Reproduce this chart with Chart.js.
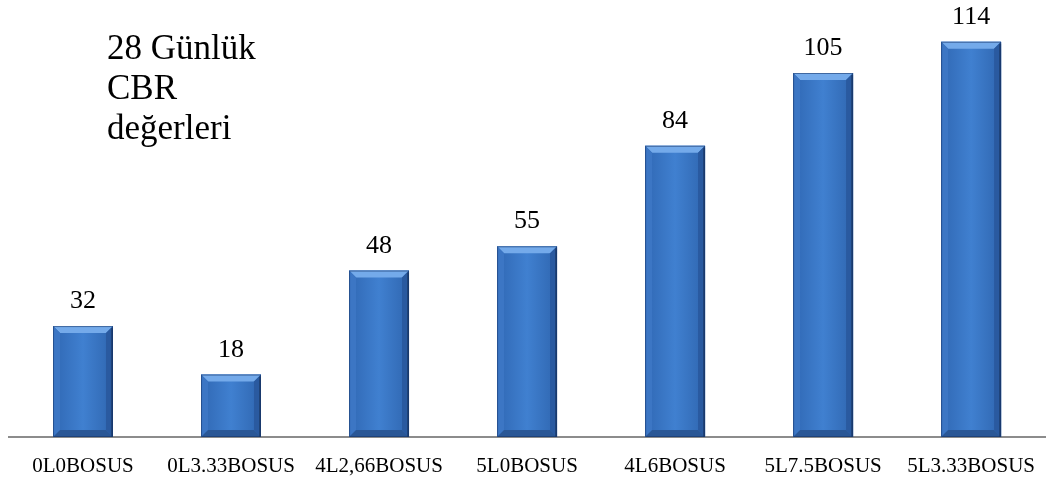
<!DOCTYPE html>
<html>
<head>
<meta charset="utf-8">
<script src="https://cdn.jsdelivr.net/npm/chart.js@4/dist/chart.umd.min.js"></script>
<style>
  html, body { margin: 0; padding: 0; background: #fff; }
  #wrap { position: relative; width: 1046px; height: 481px; }
  #title {
    position: absolute; left: 107px; top: 28px;
    font-family: "Liberation Serif", "Times New Roman", serif;
    font-size: 35px; line-height: 40px; color: #000;
  }
</style>
</head>
<body>
<div id="wrap">
  <canvas id="chart" width="1046" height="481"></canvas>
  <div id="title">28 Günlük<br>CBR<br>değerleri</div>
</div>
<script>
const categories = ['0L0BOSUS', '0L3.33BOSUS', '4L2,66BOSUS', '5L0BOSUS', '4L6BOSUS', '5L7.5BOSUS', '5L3.33BOSUS'];
const cbrValues = [32, 18, 48, 55, 84, 105, 114];

// bevel look for the bars + value labels on top
const bevelPlugin = {
    id: 'bevel',
    afterDatasetsDraw(chart) {
        const ctx = chart.ctx;
        const meta = chart.getDatasetMeta(0);
        meta.data.forEach((bar, i) => {
            const left = bar.x - bar.width / 2;
            const right = bar.x + bar.width / 2;
            const top = bar.y;
            const bottom = bar.base;
            const b = 7;

            ctx.save();
            // center gradient
            const g = ctx.createLinearGradient(left, 0, right, 0);
            g.addColorStop(0, '#3068b4');
            g.addColorStop(0.5, '#4080d0');
            g.addColorStop(1, '#2f66b0');
            ctx.fillStyle = g;
            ctx.fillRect(left, top, right - left, bottom - top);

            // top bevel
            ctx.fillStyle = '#74aaea';
            ctx.beginPath();
            ctx.moveTo(left, top);
            ctx.lineTo(right, top);
            ctx.lineTo(right - b, top + b);
            ctx.lineTo(left + b, top + b);
            ctx.closePath();
            ctx.fill();

            // left bevel
            ctx.fillStyle = '#3c76c4';
            ctx.beginPath();
            ctx.moveTo(left, top);
            ctx.lineTo(left + b, top + b);
            ctx.lineTo(left + b, bottom - b);
            ctx.lineTo(left, bottom);
            ctx.closePath();
            ctx.fill();

            // right bevel
            ctx.fillStyle = '#2a5aa0';
            ctx.beginPath();
            ctx.moveTo(right, top);
            ctx.lineTo(right - b, top + b);
            ctx.lineTo(right - b, bottom - b);
            ctx.lineTo(right, bottom);
            ctx.closePath();
            ctx.fill();

            // bottom bevel
            ctx.fillStyle = '#2a5796';
            ctx.beginPath();
            ctx.moveTo(left, bottom);
            ctx.lineTo(left + b, bottom - b);
            ctx.lineTo(right - b, bottom - b);
            ctx.lineTo(right, bottom);
            ctx.closePath();
            ctx.fill();

            // dark right edge
            ctx.fillStyle = '#1f4378';
            ctx.fillRect(right - 2, top + 2, 2, bottom - top - 2);

            // thin dark outline
            ctx.strokeStyle = 'rgba(20,50,100,0.55)';
            ctx.lineWidth = 1;
            ctx.strokeRect(left + 0.5, top + 0.5, right - left - 1, bottom - top - 1);

            // value label
            ctx.fillStyle = '#000';
            ctx.font = '26px "Liberation Serif", "Times New Roman", serif';
            ctx.textAlign = 'center';
            ctx.textBaseline = 'alphabetic';
            ctx.fillText(String(cbrValues[i]), bar.x, top - 18);
            ctx.restore();
        });
    }
};

const ctx = document.getElementById('chart').getContext('2d');
const chart = new Chart(ctx, {
    type: 'bar',
    data: {
        labels: categories,
        datasets: [{
            data: cbrValues,
            backgroundColor: '#3b76c4',
            borderWidth: 0,
            barPercentage: 0.405,
            categoryPercentage: 1.0
        }]
    },
    options: {
        responsive: false,
        animation: false,
        layout: { padding: { left: 9, right: 0, top: 21, bottom: 0 } },
        plugins: {
            legend: { display: false },
            tooltip: { enabled: false }
        },
        scales: {
            x: {
                grid: { display: false },
                border: { display: true, color: '#8c8c8c', width: 2 },
                ticks: {
                    color: '#000',
                    font: { family: '"Liberation Serif", "Times New Roman", serif', size: 21, lineHeight: 1.0 },
                    padding: 11,
                    maxRotation: 0,
                    autoSkip: false
                },
                afterFit(scale) { scale.height = 44; }
            },
            y: {
                display: false,
                min: 0,
                max: 120
            }
        }
    },
    plugins: [bevelPlugin]
});
</script>
</body>
</html>
